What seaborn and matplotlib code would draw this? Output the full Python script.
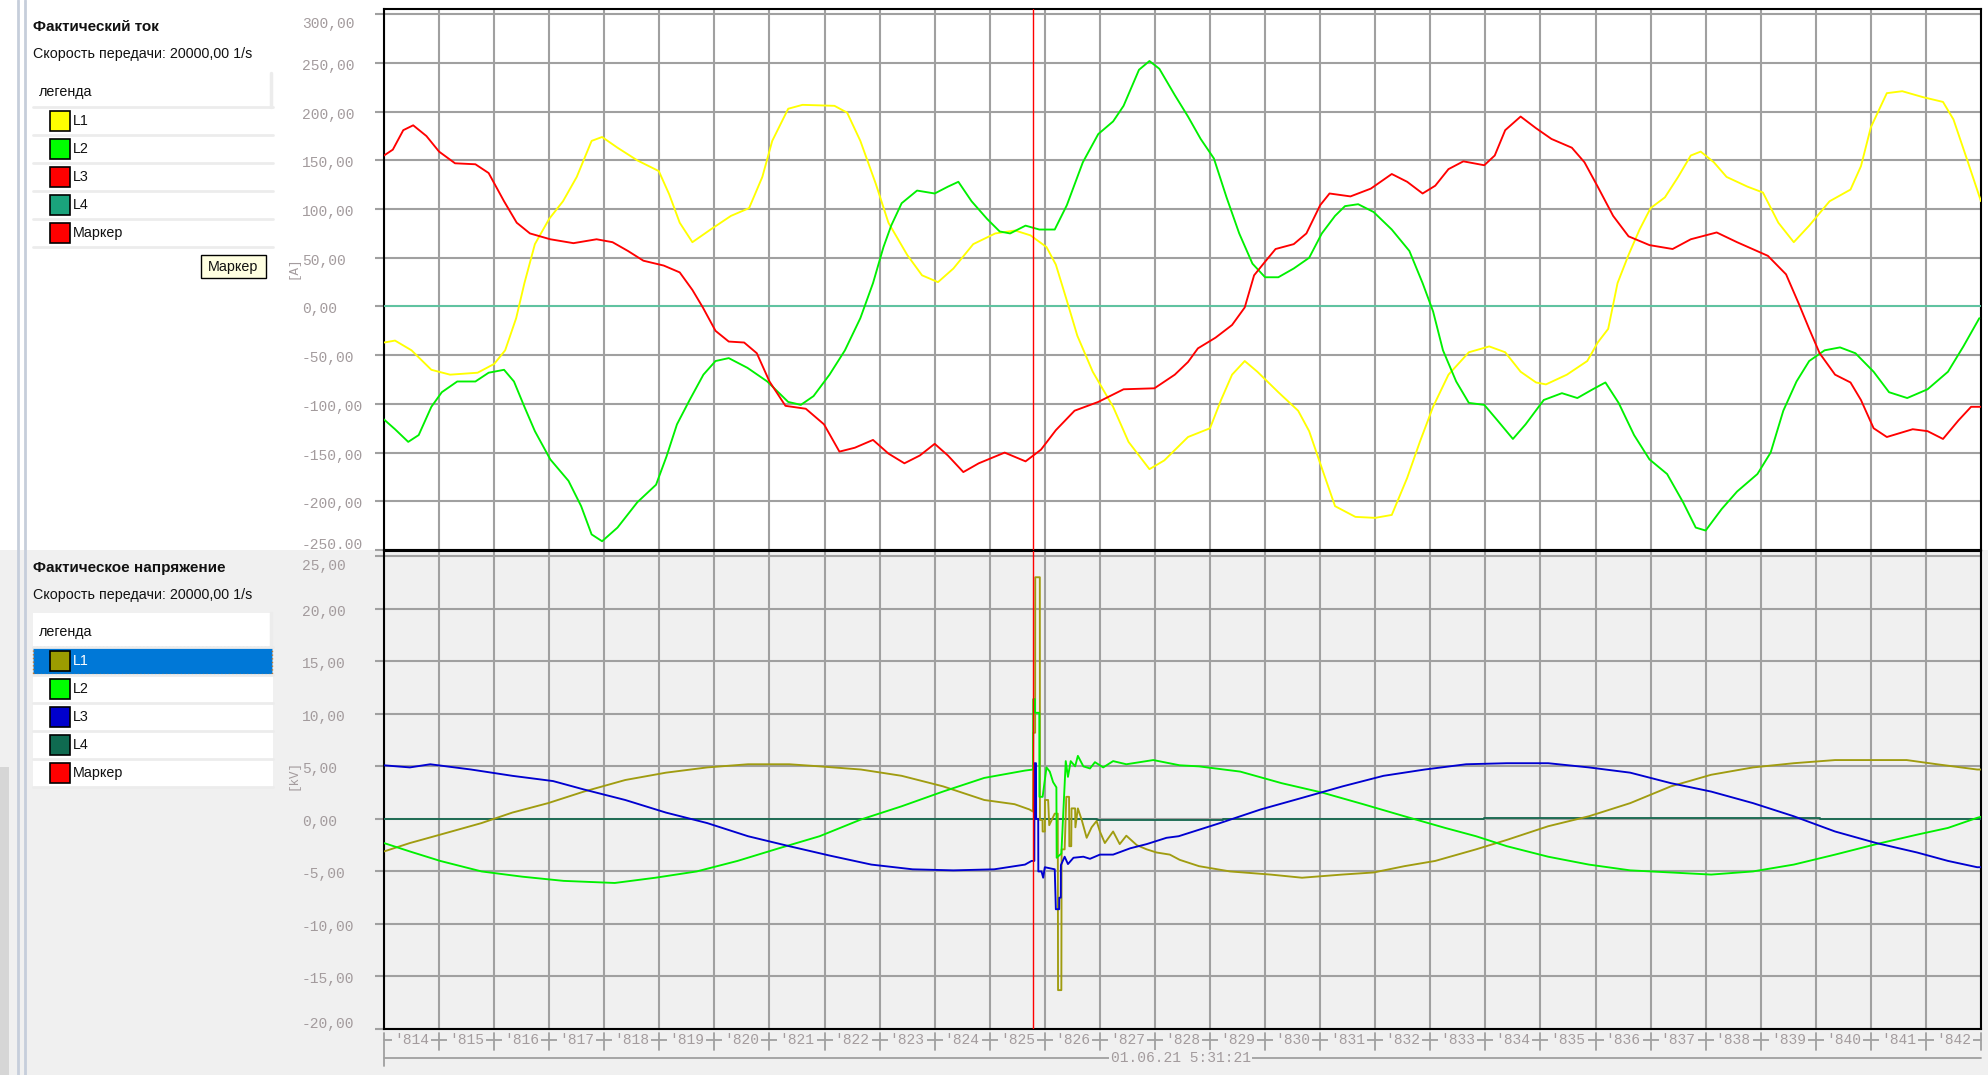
import matplotlib
matplotlib.use("Agg")
import matplotlib.pyplot as plt
import matplotlib.transforms as mtransforms
from matplotlib.patches import Rectangle
from matplotlib.lines import Line2D
import numpy as np
import pandas as pd
import seaborn as sns

# ---------------- data (time in ms, labels '814 ... '842) ----------------
x_labels = ["'%d" % v for v in range(814, 843)]
date_label = "01.06.21 5:31:21"
marker_t = 825.79

# current [A]
i_l1_t = [814.0, 814.2, 814.5, 814.86, 815.2, 815.7, 816.0, 816.2, 816.4, 816.55, 816.74, 817.0, 817.25, 817.5,
          817.77, 817.96, 818.24, 818.6, 818.99, 819.18, 819.37, 819.6, 819.93, 820.3, 820.63, 820.87, 821.05,
          821.34, 821.6, 822.18, 822.41, 822.65, 822.93, 823.16, 823.5, 823.77, 824.06, 824.34, 824.7, 825.1,
          825.46, 825.74, 826.03, 826.2, 826.4, 826.59, 826.87, 827.24, 827.52, 827.9, 828.17, 828.6, 829.0,
          829.2, 829.4, 829.63, 829.86, 830.24, 830.6, 830.8, 831.0, 831.27, 831.64, 832.0, 832.3, 832.58,
          832.81, 833.05, 833.33, 833.7, 834.07, 834.36, 834.64, 834.92, 835.1, 835.48, 835.85, 836.04, 836.23,
          836.4, 836.6, 836.8, 837.0, 837.26, 837.5, 837.73, 837.91, 838.15, 838.38, 838.76, 839.04, 839.32,
          839.6, 839.88, 840.25, 840.63, 840.82, 841.0, 841.29, 841.57, 841.94, 842.31, 842.5, 842.74, 843.0]
i_l1_v = [-37, -35, -45, -65, -70, -68, -59, -45, -12, 24, 64, 90, 108, 133,
          170, 174, 163, 150, 139, 115, 86, 66, 79, 93, 101, 133, 170,
          203, 207, 206, 199, 170, 126, 86, 53, 32, 25, 39, 64, 75,
          78, 73, 61, 43, 6, -30, -67, -103, -139, -167, -158, -134, -125,
          -96, -70, -56, -67, -88, -107, -128, -161, -205, -216, -217, -214, -176,
          -139, -103, -70, -47, -41, -47, -67, -78, -80, -70, -56, -37, -23,
          24, 53, 79, 101, 112, 133, 155, 159, 148, 133, 123, 117, 86,
          66, 83, 108, 120, 144, 184, 219, 221, 215, 210, 192, 152, 108]

i_l2_t = [814.0, 814.2, 814.44, 814.63, 814.86, 815.05, 815.33, 815.66, 815.9, 816.18, 816.36, 816.55, 816.74,
          817.02, 817.35, 817.58, 817.77, 817.96, 818.24, 818.6, 818.94, 819.13, 819.32, 819.55, 819.8, 820.02,
          820.26, 820.6, 820.96, 821.34, 821.57, 821.8, 822.09, 822.37, 822.65, 822.88, 823.07, 823.21, 823.4,
          823.68, 824.0, 824.24, 824.43, 824.67, 824.95, 825.18, 825.37, 825.65, 825.9, 826.18, 826.4, 826.69,
          826.97, 827.24, 827.43, 827.71, 827.9, 828.08, 828.36, 828.6, 828.83, 829.07, 829.3, 829.53, 829.77,
          830.0, 830.24, 830.52, 830.8, 831.03, 831.27, 831.45, 831.69, 831.97, 832.3, 832.62, 832.86, 833.05,
          833.23, 833.47, 833.7, 833.98, 834.22, 834.5, 834.73, 835.06, 835.39, 835.67, 835.95, 836.18, 836.42,
          836.7, 836.98, 837.3, 837.59, 837.82, 838.0, 838.29, 838.57, 838.94, 839.18, 839.41, 839.65, 839.88,
          840.16, 840.44, 840.72, 841.05, 841.33, 841.66, 842.03, 842.4, 842.68, 842.97]
i_l2_v = [-116, -126, -139, -132, -103, -88, -77, -77, -68, -65, -77, -103, -128,
          -157, -179, -205, -234, -241, -227, -201, -183, -154, -121, -96, -70, -56,
          -53, -63, -77, -98, -101, -92, -70, -45, -12, 24, 61, 83, 106,
          119, 116, 123, 128, 108, 90, 77, 75, 83, 79, 79, 104, 148,
          177, 190, 206, 243, 252, 244, 217, 195, 172, 152, 112, 75, 44,
          30, 30, 39, 50, 75, 93, 103, 105, 97, 79, 57, 24, -5,
          -45, -77, -99, -101, -117, -136, -121, -96, -89, -94, -85, -78, -99,
          -132, -157, -172, -201, -227, -230, -208, -190, -172, -150, -107, -77, -56,
          -45, -42, -48, -67, -88, -94, -85, -67, -41, -12]

i_l3_t = [814.0, 814.16, 814.35, 814.53, 814.77, 815.0, 815.29, 815.66, 815.9, 816.18, 816.41, 816.65, 817.02,
          817.44, 817.86, 818.15, 818.43, 818.71, 819.08, 819.37, 819.6, 819.79, 820.02, 820.26, 820.54, 820.77,
          821.0, 821.29, 821.66, 821.99, 822.27, 822.55, 822.88, 823.16, 823.45, 823.73, 824.0, 824.24, 824.52,
          824.8, 825.27, 825.65, 825.93, 826.2, 826.54, 826.97, 827.43, 827.99, 828.36, 828.6, 828.78, 829.1,
          829.4, 829.63, 829.8, 830.0, 830.19, 830.52, 830.75, 831.0, 831.17, 831.55, 831.92, 832.3, 832.58,
          832.86, 833.09, 833.33, 833.6, 833.98, 834.17, 834.36, 834.64, 834.92, 835.2, 835.57, 835.8, 836.04,
          836.32, 836.6, 836.98, 837.4, 837.73, 838.2, 838.57, 839.13, 839.46, 839.69, 839.88, 840.07, 840.35,
          840.63, 840.82, 841.05, 841.29, 841.76, 842.03, 842.31, 842.59, 842.82, 843.0]
i_l3_v = [155, 161, 181, 186, 175, 159, 147, 146, 137, 108, 86, 75, 69,
          65, 69, 66, 57, 47, 42, 35, 17, -1, -25, -36, -37, -48,
          -77, -102, -105, -121, -149, -145, -137, -151, -161, -153, -141, -153, -170,
          -161, -150, -159, -147, -127, -107, -98, -85, -84, -70, -57, -43, -32,
          -19, -1, 32, 46, 59, 64, 75, 104, 116, 113, 121, 136, 128,
          116, 124, 141, 149, 145, 155, 181, 195, 183, 172, 163, 148, 123,
          93, 72, 63, 59, 69, 76, 66, 52, 33, 3, -23, -48, -70,
          -78, -96, -125, -134, -126, -128, -136, -117, -103, -103]

i_l4_t = [814.0, 843.0]
i_l4_v = [0.0, 0.0]

# voltage [kV]
u_l1_t = [814.0, 814.47, 815.02, 815.77, 816.33, 816.98, 817.63, 818.38, 819.12, 819.87, 820.61, 821.36, 821.91,
          822.66, 823.4, 824.15, 824.9, 825.45, 825.72, 825.785, 825.79, 825.824, 825.826, 825.909, 825.911,
          825.958, 825.96, 826.0, 826.002, 826.06, 826.08, 826.18, 826.235, 826.24, 826.30, 826.305, 826.36,
          826.39, 826.44, 826.445, 826.48, 826.485, 826.55, 826.555, 826.6, 826.67, 826.76, 826.85, 826.94,
          827.0, 827.09, 827.24, 827.36, 827.48, 827.67, 827.85, 828.03, 828.27, 828.45, 828.8, 829.36, 830.1,
          830.67, 831.4, 831.97, 832.53, 833.09, 833.83, 834.39, 835.14, 835.88, 836.63, 837.37, 838.1, 838.86,
          839.6, 840.35, 841.1, 841.65, 842.2, 842.93, 843.0]
u_l1_v = [-3.1, -2.3, -1.5, -0.4, 0.6, 1.5, 2.6, 3.7, 4.4, 4.9, 5.2, 5.2, 5.0,
          4.7, 4.1, 3.1, 1.8, 1.4, 0.9, 0.7, 8.2, 8.2, 23.0, 23.0, -0.1,
          -0.1, -1.2, -1.2, 1.8, 1.8, -0.6, 0.5, 0.5, -16.3, -16.3, -2.9, -2.9,
          2.1, 2.1, -2.6, -2.6, 1.0, 1.0, -0.8, 1.0, -0.1, -1.8, -0.8, -0.2,
          -1.2, -2.3, -1.2, -2.4, -1.6, -2.5, -2.9, -3.2, -3.4, -3.9, -4.5, -5.0, -5.3,
          -5.6, -5.3, -5.1, -4.5, -4.0, -2.9, -2.0, -0.7, 0.25, 1.5, 3.1, 4.2, 4.9,
          5.3, 5.6, 5.6, 5.6, 5.2, 4.7, 4.7]

u_l2_t = [814.0, 814.47, 815.02, 815.77, 816.51, 817.26, 818.19, 818.93, 819.68, 820.42, 821.17, 821.91, 822.66,
          823.4, 824.15, 824.9, 825.64, 825.785, 825.79, 825.82, 825.822, 825.9, 825.902, 825.96, 826.03, 826.09,
          826.15, 826.21, 826.215, 826.3, 826.33, 826.38, 826.42, 826.47, 826.55, 826.6, 826.7, 826.82, 826.91,
          827.06, 827.24, 827.48, 827.97, 828.45, 828.8, 829.55, 830.3, 831.04, 831.78, 832.53, 833.27, 833.83,
          834.39, 835.14, 835.88, 836.63, 837.37, 838.1, 838.86, 839.6, 840.35, 841.1, 841.84, 842.4, 842.93, 843.0]
u_l2_v = [-2.3, -3.1, -4.0, -5.0, -5.5, -5.9, -6.1, -5.6, -5.0, -4.0, -2.8, -1.65, -0.06,
          1.2, 2.6, 3.9, 4.6, 4.7, 11.4, 11.4, 10.1, 10.1, 2.1, 2.1, 4.9, 4.5,
          3.5, 3.0, -3.7, -3.3, 0.0, 5.5, 4.0, 5.5, 5.0, 6.0, 5.0, 4.8, 5.4,
          4.9, 5.5, 5.2, 5.6, 5.1, 5.0, 4.5, 3.4, 2.5, 1.4, 0.25, -0.86, -1.65,
          -2.6, -3.6, -4.35, -4.9, -5.1, -5.3, -5.0, -4.35, -3.4, -2.4, -1.5, -0.86, 0.1, 0.2]

u_l3_t = [814.0, 814.47, 814.84, 815.58, 816.33, 817.07, 817.63, 818.38, 819.12, 819.87, 820.61, 821.36, 822.1,
          822.85, 823.6, 824.34, 825.08, 825.64, 825.76, 825.81, 825.812, 825.84, 825.842, 825.88, 825.882,
          825.94, 825.97, 826.0, 826.18, 826.2, 826.26, 826.262, 826.29, 826.292, 826.36, 826.42, 826.52, 826.7,
          826.82, 827.0, 827.24, 827.55, 827.85, 828.21, 828.43, 829.18, 829.92, 830.67, 831.41, 832.15, 832.9,
          833.65, 834.39, 835.14, 835.88, 836.63, 837.37, 838.1, 838.86, 839.6, 840.35, 841.1, 841.84, 842.4,
          842.93, 843.0]
u_l3_v = [5.1, 4.9, 5.2, 4.7, 4.1, 3.6, 2.8, 1.8, 0.6, -0.4, -1.65, -2.6, -3.5,
          -4.35, -4.8, -4.9, -4.8, -4.35, -4.0, -4.0, 5.3, 5.3, 0.0, 0.0, -5.0,
          -5.0, -5.6, -4.6, -4.8, -8.6, -8.6, -7.5, -7.5, -4.4, -3.6, -4.3, -3.7, -3.6,
          -3.8, -3.4, -3.4, -2.8, -2.4, -1.8, -1.65, -0.4, 0.9, 2.0, 3.1, 4.1, 4.7,
          5.2, 5.3, 5.3, 4.9, 4.4, 3.4, 2.6, 1.5, 0.25, -1.2, -2.3, -3.2, -4.0,
          -4.6, -4.6]

u_l4_t = [814.0, 826.94, 826.94, 829.23, 829.23, 833.98, 833.98, 840.07, 840.07, 843.0]
u_l4_v = [0.0, 0.0, -0.08, -0.08, 0.0, 0.0, 0.08, 0.08, 0.0, 0.0]

i_ticks = [-250, -200, -150, -100, -50, 0, 50, 100, 150, 200, 250, 300]
i_tick_labels = ["-250.00", "-200,00", "-150,00", "-100,00", "-50,00", "0,00", "50,00", "100,00",
                 "150,00", "200,00", "250,00", "300,00"]
u_ticks = [-20, -15, -10, -5, 0, 5, 10, 15, 20, 25]
u_tick_labels = ["-20,00", "-15,00", "-10,00", "-5,00", "0,00", "5,00", "10,00", "15,00", "20,00", "25,00"]

legend_names = ["L1", "L2", "L3", "L4", "Маркер"]
i_colors = ["#ffff00", "#00ff00", "#ff0000", "#1aa37c", "#ff0000"]
u_colors = ["#9c9c00", "#00ff00", "#0000cc", "#0f6a50", "#ff0000"]
i_line_colors = {"L1": "#ffff00", "L2": "#00f000", "L3": "#ff0000", "L4": "#5cc6a2"}
u_line_colors = {"L1": "#a09c10", "L2": "#00f000", "L3": "#0000d0", "L4": "#1a6a52"}


def frame(series):
    parts = []
    for name, (t, v) in series.items():
        parts.append(pd.DataFrame({"t": t, "v": v, "phase": name}))
    return pd.concat(parts, ignore_index=True)


df_i = frame({"L4": (i_l4_t, i_l4_v), "L1": (i_l1_t, i_l1_v), "L2": (i_l2_t, i_l2_v), "L3": (i_l3_t, i_l3_v)})
df_u = frame({"L4": (u_l4_t, u_l4_v), "L1": (u_l1_t, u_l1_v), "L2": (u_l2_t, u_l2_v), "L3": (u_l3_t, u_l3_v)})

# ---------------- figure ----------------
sns.set_theme(style="white")
plt.rcParams["font.family"] = ["Liberation Sans", "DejaVu Sans"]

W, H = 1988, 1075
fig = plt.figure(figsize=(W / 100, H / 100), dpi=100, facecolor="#f0f0f0")


def fx(x):
    return x / W


def fy(y):
    return 1 - y / H


def rect(x0, y0, x1, y1, **kw):
    kw.setdefault("zorder", 2)
    fig.add_artist(Rectangle((fx(x0), fy(y1)), fx(x1) - fx(x0), fy(y0) - fy(y1),
                             transform=fig.transFigure, **kw))


def fline(xs, ys, **kw):
    fig.add_artist(Line2D([fx(x) for x in xs], [fy(y) for y in ys], transform=fig.transFigure, **kw))


def ftext(x, y, s, **kw):
    fig.text(fx(x), fy(y), s, **kw)


# backgrounds
rect(0, 0, W, 550, facecolor="white", edgecolor="none", zorder=-5)
rect(0, 767, 9, H, facecolor="#d6d6d6", edgecolor="none", zorder=-4)
fline([18, 18], [0, H], color="#c6cedb", lw=2, zorder=-3)
fline([25, 25], [0, H], color="#c6cedb", lw=2, zorder=-3)

GRID = "#a0a0a0"
MONO = "Liberation Mono"
TICKC = "#a39b9d"

ax1 = fig.add_axes([fx(384), fy(550), fx(1981) - fx(384), fy(9) - fy(550)])
ax2 = fig.add_axes([fx(384), fy(1029), fx(1981) - fx(384), fy(551) - fy(1029)])
ax1.set_facecolor("white")
ax2.set_facecolor("#f0f0f0")

for ax, df, pal, ticks, labels, lim in [
    (ax1, df_i, i_line_colors, i_ticks, i_tick_labels, (-250, 305.4)),
    (ax2, df_u, u_line_colors, u_ticks, u_tick_labels, (-20, 25.5)),
]:
    sns.lineplot(data=df, x="t", y="v", hue="phase", palette=pal, estimator=None, sort=False,
                 legend=False, lw=1.35, ax=ax, zorder=3)
    ax.set_xlim(814, 843)
    ax.set_ylim(*lim)
    ax.set_xticks(np.arange(814, 844))
    ax.set_yticks(ticks)
    ax.grid(True, color=GRID, lw=1.5)
    ax.set_axisbelow(True)
    ax.tick_params(axis="x", length=0, labelbottom=False)
    ax.tick_params(axis="y", length=6.5, width=1.5, color=GRID, labelleft=False, left=True)
    ax.set_xlabel("")
    ax.set_ylabel("")
    for s in ax.spines.values():
        s.set_color("black")
        s.set_linewidth(1.5)
    ax.axvline(marker_t, color="#ff0000", lw=1.0, zorder=6)
    trans = mtransforms.blended_transform_factory(fig.transFigure, ax.transData)
    for k, (val, lab) in enumerate(zip(ticks, labels)):
        off = -3
        if k == len(ticks) - 1:
            off = -10
        if k == 0:
            off = 5
        tr = trans + mtransforms.ScaledTranslation(0, off / 100, fig.dpi_scale_trans)
        ax.text(fx(302), val, lab, transform=tr, ha="left", va="center", family=MONO,
                fontsize=10.5, color=TICKC, clip_on=False)

# x axis decorations under the lower panel
bt = mtransforms.blended_transform_factory(ax2.transData, fig.transFigure)
ax2.add_line(Line2D([814, 843], [fy(1040), fy(1040)], transform=bt, color=GRID, lw=1.3, clip_on=False))
ax2.add_line(Line2D([814, 843], [fy(1058), fy(1058)], transform=bt, color=GRID, lw=1.3, clip_on=False))
for k in range(814, 844):
    y_end = 1066 if k == 814 else 1050
    ax2.add_line(Line2D([k, k], [fy(1033), fy(y_end)], transform=bt, color=GRID, lw=1.3, clip_on=False))
for k, lab in enumerate(x_labels):
    ax2.text(814.5 + k, fy(1040), lab, transform=bt, ha="center", va="center", family=MONO,
             fontsize=10.5, color=TICKC, clip_on=False,
             bbox=dict(facecolor="#f0f0f0", edgecolor="none", pad=1.5))
ax2.text(828.47, fy(1058), date_label, transform=bt, ha="center", va="center", family=MONO,
         fontsize=10.5, color=TICKC, clip_on=False,
         bbox=dict(facecolor="#f0f0f0", edgecolor="none", pad=1.0))

# unit labels
ftext(293, 268, "[A]", rotation=90, ha="center", va="center", family=MONO, fontsize=9, color=TICKC)
ftext(293, 775, "[kV]", rotation=90, ha="center", va="center", family=MONO, fontsize=9, color=TICKC)


# ---------------- left panels ----------------
def panel(y_title, title, y_box, colors, highlight):
    ftext(33, y_title, title, ha="left", va="center", fontsize=11, fontweight="bold", color="#111111")
    ftext(33, y_title + 27, "Скорость передачи: 20000,00 1/s", ha="left", va="center", fontsize=10.3,
          color="#111111")
    rect(33, y_box, 273, y_box + 175, facecolor="white", edgecolor="none", zorder=1)
    ftext(39, y_box + 19, "легенда", ha="left", va="center", fontsize=10.3, color="#111111")
    fline([271, 271], [y_box, y_box + 34], color="#ececec", lw=2.5, zorder=2)
    for r, (name, col) in enumerate(zip(legend_names, colors)):
        top = y_box + 34 + 28 * r
        cy = top + 14
        tcol = "#111111"
        if highlight and r == 0:
            rect(33, top, 272, top + 27, facecolor="#0078d7", edgecolor="#c07830", lw=1, ls=":", zorder=2)
            tcol = "white"
        fline([33, 273], [top, top], color="#ececec", lw=2, zorder=2)
        rect(50, cy - 10, 70, cy + 10, facecolor=col, edgecolor="black", lw=1.2, zorder=3)
        ftext(73, cy, name, ha="left", va="center", fontsize=10.3, color=tcol, zorder=4)
    fline([33, 273], [y_box + 34 + 28 * 5, y_box + 34 + 28 * 5], color="#ececec", lw=2, zorder=2)


panel(27, "Фактический ток", 73, i_colors, False)
panel(568, "Фактическое напряжение", 613, u_colors, True)

# tooltip
rect(201, 255, 266, 278, facecolor="#ffffe1", edgecolor="black", lw=1, zorder=3)
ftext(233.5, 267, "Маркер", ha="center", va="center", fontsize=10.3, color="#111111", zorder=4)

fig.savefig("out.png", dpi=100, facecolor=fig.get_facecolor())
